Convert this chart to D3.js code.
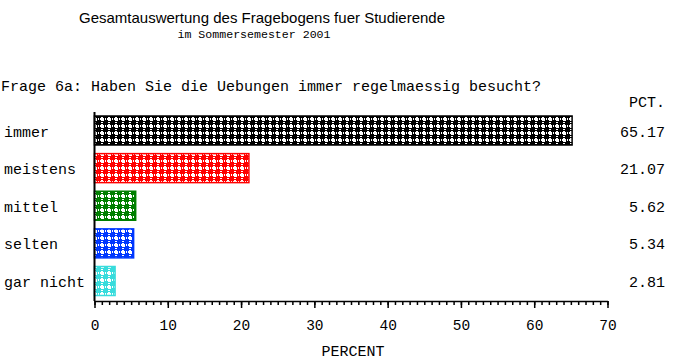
<!DOCTYPE html>
<html>
<head>
<meta charset="utf-8">
<script src="https://cdn.jsdelivr.net/npm/d3@7"></script>
<style>
  body { margin: 0; background: #fff; }
  text { font-family: "Liberation Mono", "Courier New", monospace; font-size: 15px; fill: #000; }
  .title { font-family: "Liberation Sans", Arial, sans-serif; font-size: 15px; }
</style>
</head>
<body>
<svg id="chart" width="685" height="364"></svg>
<script>
// data
const categories = ["immer", "meistens", "mittel", "selten", "gar nicht"];
const percents = [65.17, 21.07, 5.62, 5.34, 2.81];
const barColors = ["#000000", "#ff0000", "#008000", "#0038ff", "#38dcdc"];
const majorTicks = [0, 10, 20, 30, 40, 50, 60, 70];

const svg = d3.select("#chart");

// x scale / y positions
const x = d3.scaleLinear().domain([0, 70]).range([94.5, 607.5]);
const y = d3.scalePoint().domain(categories).range([130.5, 281]);
const barH = 29;

// patterns: 1px checker + solid dot + white hole, one per colour
const defs = svg.append("defs");
barColors.forEach((c, i) => {
    const p = defs.append("pattern")
        .attr("id", "pat" + i)
        .attr("patternUnits", "userSpaceOnUse")
        .attr("x", 95).attr("y", 0)
        .attr("width", 7).attr("height", 7)
        .attr("shape-rendering", "crispEdges");
    p.append("rect").attr("width", 7).attr("height", 7).attr("fill", "#fff");
    for (let a = 0; a < 7; a++) {
        for (let b = 0; b < 7; b++) {
            const inHole = [6, 0, 1].includes(a) && [6, 0, 1].includes(b);
            if ((a + b) % 2 === 0 && !inHole) {
                p.append("rect").attr("x", a).attr("y", b)
                    .attr("width", 1).attr("height", 1).attr("fill", c);
            }
        }
    }
    // round-ish 5x5 dot built from two rects
    p.append("rect").attr("x", 2).attr("y", 1).attr("width", 3).attr("height", 5).attr("fill", c);
    p.append("rect").attr("x", 1).attr("y", 2).attr("width", 5).attr("height", 3).attr("fill", c);
});

// titles
svg.append("text").attr("class", "title")
    .attr("x", 262).attr("y", 23).attr("text-anchor", "middle")
    .text("Gesamtauswertung des Fragebogens fuer Studierende");
svg.append("text")
    .attr("x", 254).attr("y", 38).attr("text-anchor", "middle")
    .style("font-size", "11.6px")
    .text("im Sommersemester 2001");
svg.append("text")
    .attr("x", 1).attr("y", 91)
    .text("Frage 6a: Haben Sie die Uebungen immer regelmaessig besucht?");
svg.append("text")
    .attr("x", 665).attr("y", 107).attr("text-anchor", "end")
    .text("PCT.");

// bars
svg.append("g").selectAll("rect")
    .data(categories)
    .enter().append("rect")
    .attr("x", x(0))
    .attr("y", d => y(d) - barH / 2)
    .attr("width", (d, i) => x(percents[i]) - x(0))
    .attr("height", barH)
    .attr("fill", (d, i) => `url(#pat${i})`)
    .attr("stroke", (d, i) => barColors[i])
    .attr("stroke-width", 1.5);

// category labels
svg.append("g").selectAll("text")
    .data(categories)
    .enter().append("text")
    .attr("x", 4)
    .attr("y", d => y(d) + 6)
    .text(d => d);

// value labels
svg.append("g").selectAll("text")
    .data(categories)
    .enter().append("text")
    .attr("x", 665)
    .attr("y", d => y(d) + 6)
    .attr("text-anchor", "end")
    .text((d, i) => percents[i].toFixed(2));

// vertical axis line
svg.append("line")
    .attr("x1", x(0)).attr("x2", x(0))
    .attr("y1", 112).attr("y2", 301)
    .attr("stroke", "#000").attr("stroke-width", 2);

// minor ticks
const minorAxis = svg.append("g")
    .attr("transform", "translate(0,301)")
    .call(d3.axisBottom(x).ticks(70).tickSize(4).tickFormat(""));
minorAxis.select(".domain").remove();

// major ticks + labels
const majorAxis = svg.append("g")
    .attr("transform", "translate(0,301)")
    .call(d3.axisBottom(x).tickValues(majorTicks).tickSize(7).tickSizeOuter(0).tickPadding(12));
majorAxis.selectAll("text")
    .style("font-family", "Liberation Mono, monospace")
    .style("font-size", "14.5px");
majorAxis.select(".domain").attr("stroke-width", 1.5);
svg.selectAll(".tick line").attr("stroke-width", 1.5);

svg.append("text")
    .attr("x", 353).attr("y", 356).attr("text-anchor", "middle")
    .text("PERCENT");
</script>
</body>
</html>
